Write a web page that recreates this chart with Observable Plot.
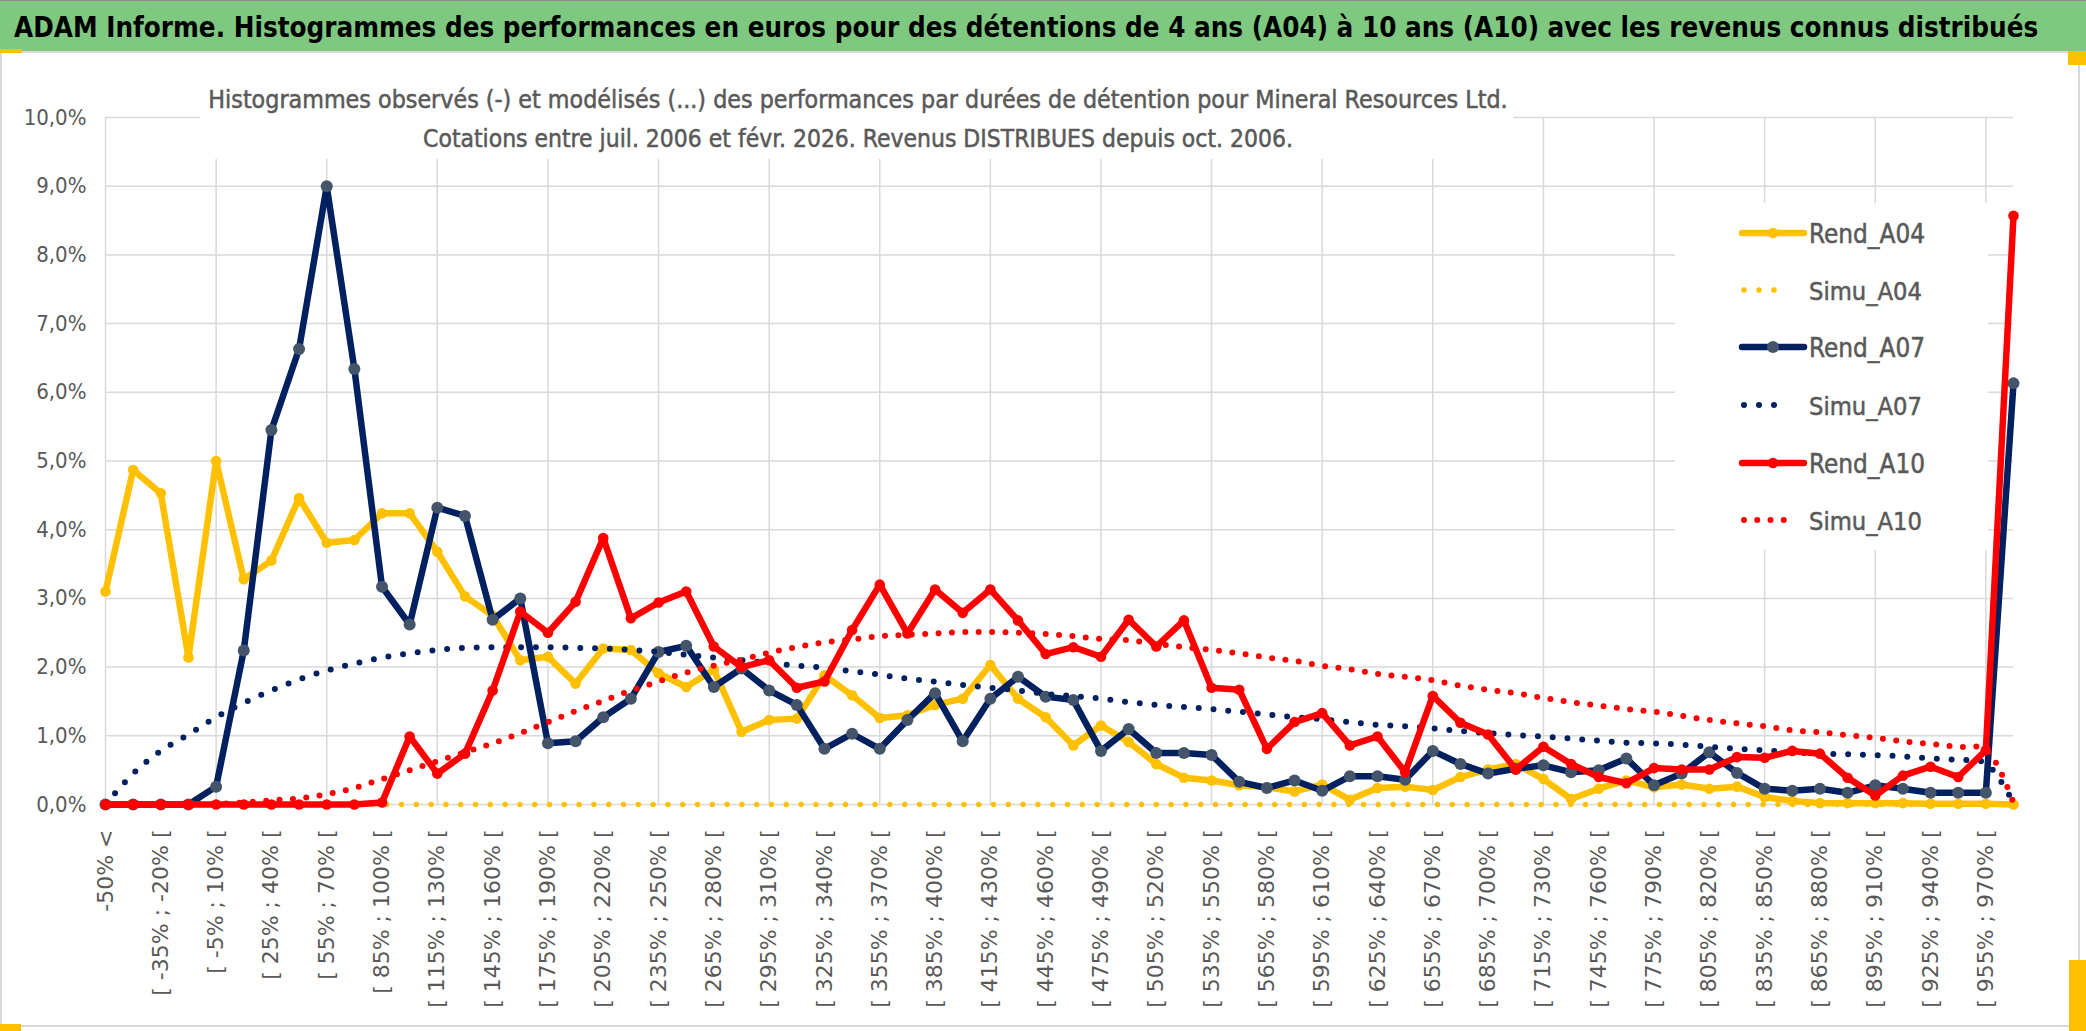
<!DOCTYPE html>
<html><head><meta charset="utf-8">
<script src="https://cdn.jsdelivr.net/npm/d3@7"></script>
<script src="https://cdn.jsdelivr.net/npm/@observablehq/plot@0.6"></script>
<style>
html,body{margin:0;padding:0;background:#fff;}
#wrap{position:relative;width:2086px;height:1031px;overflow:hidden;background:#fff;}
#bar{position:absolute;left:0;top:0;width:2086px;height:51px;background:#7ec87f;border-top:1px solid #8a8a8a;box-sizing:border-box;}
#chart{position:absolute;left:0;top:53px;}
#over{position:absolute;left:0;top:0;pointer-events:none;}
</style></head><body>
<div id="wrap"><div id="bar"></div><div id="chart"></div><svg id="over" width="2086" height="1031"></svg></div>
<script>
const titleText = "ADAM Informe. Histogrammes des performances en euros pour des détentions de 4 ans (A04) à 10 ans (A10) avec les revenus connus distribués";
const subtitle1 = "Histogrammes observés (-) et modélisés (...) des performances par durées de détention pour Mineral Resources Ltd.";
const subtitle2 = "Cotations entre juil. 2006 et févr. 2026. Revenus DISTRIBUES depuis oct. 2006.";

const categories = [
"-50% <","[ -50% ; -35% [","[ -35% ; -20% [","[ -20% ; -5% [","[ -5% ; 10% [","[ 10% ; 25% [","[ 25% ; 40% [","[ 40% ; 55% [","[ 55% ; 70% [","[ 70% ; 85% [",
"[ 85% ; 100% [","[ 100% ; 115% [","[ 115% ; 130% [","[ 130% ; 145% [","[ 145% ; 160% [","[ 160% ; 175% [","[ 175% ; 190% [","[ 190% ; 205% [","[ 205% ; 220% [","[ 220% ; 235% [",
"[ 235% ; 250% [","[ 250% ; 265% [","[ 265% ; 280% [","[ 280% ; 295% [","[ 295% ; 310% [","[ 310% ; 325% [","[ 325% ; 340% [","[ 340% ; 355% [","[ 355% ; 370% [","[ 370% ; 385% [",
"[ 385% ; 400% [","[ 400% ; 415% [","[ 415% ; 430% [","[ 430% ; 445% [","[ 445% ; 460% [","[ 460% ; 475% [","[ 475% ; 490% [","[ 490% ; 505% [","[ 505% ; 520% [","[ 520% ; 535% [",
"[ 535% ; 550% [","[ 550% ; 565% [","[ 565% ; 580% [","[ 580% ; 595% [","[ 595% ; 610% [","[ 610% ; 625% [","[ 625% ; 640% [","[ 640% ; 655% [","[ 655% ; 670% [","[ 670% ; 685% [",
"[ 685% ; 700% [","[ 700% ; 715% [","[ 715% ; 730% [","[ 730% ; 745% [","[ 745% ; 760% [","[ 760% ; 775% [","[ 775% ; 790% [","[ 790% ; 805% [","[ 805% ; 820% [","[ 820% ; 835% [",
"[ 835% ; 850% [","[ 850% ; 865% [","[ 865% ; 880% [","[ 880% ; 895% [","[ 895% ; 910% [","[ 910% ; 925% [","[ 925% ; 940% [","[ 940% ; 955% [","[ 955% ; 970% [","970% >"
];

const yTicks = [0,1,2,3,4,5,6,7,8,9,10];

// values in %
const rendA04 = [3.10,4.87,4.53,2.14,5.00,3.28,3.55,4.46,3.81,3.85,
4.24,4.24,3.68,3.03,2.75,2.10,2.15,1.76,2.27,2.25,
1.91,1.71,1.96,1.06,1.23,1.25,1.88,1.59,1.26,1.30,
1.45,1.54,2.03,1.54,1.27,0.86,1.15,0.91,0.59,0.39,
0.35,0.28,0.25,0.19,0.29,0.07,0.24,0.26,0.21,0.40,
0.51,0.59,0.37,0.08,0.23,0.35,0.25,0.29,0.23,0.26,
0.11,0.05,0.02,0.02,0.02,0.02,0.01,0.01,0.01,0.00];
const simuA04 = [0,0,0,0,0,0,0,0,0,0,0,0,0,0,0,0,0,0,0,0,0,0,0,0,0,0,0,0,0,0,0,0,0,0,0,
0,0,0,0,0,0,0,0,0,0,0,0,0,0,0,0,0,0,0,0,0,0,0,0,0,0,0,0,0,0,0,0,0,0,0];
const rendA07 = [0,0,0,0,0.26,2.24,5.45,6.63,9.00,6.34,
3.17,2.62,4.32,4.20,2.69,3.00,0.89,0.92,1.27,1.54,
2.22,2.31,1.71,1.98,1.66,1.45,0.81,1.03,0.81,1.23,
1.62,0.92,1.54,1.86,1.57,1.52,0.78,1.10,0.75,0.75,
0.72,0.33,0.24,0.35,0.20,0.41,0.41,0.36,0.78,0.59,
0.45,0.52,0.57,0.47,0.50,0.67,0.28,0.45,0.76,0.46,
0.23,0.20,0.23,0.17,0.28,0.23,0.17,0.17,0.17,6.13];
const simuA07 = [0.00,0.45,0.78,1.02,1.27,1.48,1.66,1.82,1.95,2.05,
2.14,2.20,2.25,2.28,2.29,2.29,2.29,2.28,2.27,2.25,
2.22,2.18,2.14,2.10,2.06,2.02,1.99,1.94,1.89,1.83,
1.79,1.74,1.70,1.66,1.61,1.58,1.54,1.49,1.45,1.42,
1.39,1.35,1.31,1.27,1.24,1.20,1.16,1.14,1.11,1.07,
1.04,1.01,0.99,0.96,0.93,0.90,0.89,0.87,0.84,0.81,
0.79,0.76,0.74,0.73,0.72,0.70,0.67,0.65,0.60,0.02];
const rendA10 = [0,0,0,0,0,0,0,0,0,0,
0.03,0.99,0.45,0.74,1.66,2.81,2.50,2.95,3.88,2.71,
2.94,3.10,2.30,2.00,2.10,1.70,1.79,2.54,3.20,2.49,
3.13,2.79,3.13,2.68,2.19,2.29,2.15,2.69,2.30,2.68,
1.70,1.67,0.81,1.20,1.33,0.86,0.99,0.47,1.58,1.19,
1.02,0.51,0.84,0.59,0.40,0.31,0.53,0.51,0.51,0.69,
0.68,0.78,0.74,0.39,0.13,0.42,0.55,0.40,0.79,8.57];
const simuA10 = [0,0,0,0,0.01,0.03,0.06,0.09,0.15,0.24,
0.37,0.50,0.63,0.76,0.89,1.04,1.20,1.36,1.51,1.66,
1.79,1.92,2.02,2.11,2.21,2.29,2.36,2.40,2.45,2.47,
2.49,2.51,2.51,2.50,2.48,2.45,2.41,2.39,2.34,2.29,
2.25,2.20,2.14,2.09,2.02,1.97,1.90,1.86,1.81,1.73,
1.67,1.62,1.55,1.49,1.44,1.39,1.35,1.29,1.23,1.18,
1.14,1.08,1.05,1.01,0.97,0.92,0.88,0.84,0.80,0.02];

const seriesNames = ["Rend_A04","Simu_A04","Rend_A07","Simu_A07","Rend_A10","Simu_A10"];
const seriesValues = [rendA04, simuA04, rendA07, simuA07, rendA10, simuA10];
const styles = [
  {kind:"rend", stroke:"#FFC000", marker:"#FFC000", r:5.3},
  {kind:"simu", stroke:"#FFC000", w:5.5, dash:"0 14.8"},
  {kind:"rend", stroke:"#002060", marker:"#44546A", r:6},
  {kind:"simu", stroke:"#002060", w:6, dash:"0 14.8"},
  {kind:"rend", stroke:"#FF0000", marker:"#FF0000", r:5.3},
  {kind:"simu", stroke:"#FF0000", w:6, dash:"0 13.4"}
];

const NARROW = "'Liberation Sans Narrow','DejaVu Sans Condensed','Liberation Sans',sans-serif";
const GRID = "#d9d9d9";
const TXT = "#595959";

const marks = [
  Plot.gridY(yTicks, {stroke: GRID, strokeOpacity: 1, strokeWidth: 1.5}),
  Plot.gridX(categories.filter((d, i) => i % 4 === 0), {stroke: GRID, strokeOpacity: 1, strokeWidth: 1.5}),
  Plot.axisY(yTicks, {tickSize: 0, tickPadding: 19, fontSize: 22, fontFamily: NARROW, fill: TXT,
    tickFormat: d => d.toFixed(1).replace(".", ",") + "%", label: null}),
  Plot.axisX(categories.filter((d, i) => i % 2 === 0), {tickSize: 0, tickPadding: 25, tickRotate: -90,
    fontSize: 22, fontFamily: "'DejaVu Sans',sans-serif", fill: TXT, label: null})
];

seriesValues.forEach((vals, k) => {
  const rows = categories.map((c, i) => ({cat: c, v: vals[i], s: seriesNames[k]}));
  const st = styles[k];
  if (st.kind === "rend") {
    marks.push(Plot.line(rows, {x: "cat", y: "v", stroke: st.stroke, strokeWidth: 6.5, strokeLinejoin: "round", strokeLinecap: "round"}));
    marks.push(Plot.dot(rows, {x: "cat", y: "v", r: st.r, fill: st.marker, stroke: "none"}));
  } else {
    marks.push(Plot.line(rows, {x: "cat", y: "v", stroke: st.stroke, strokeWidth: st.w, strokeDasharray: st.dash,
      strokeLinecap: "round", curve: "catmull-rom"}));
  }
});

const chart = Plot.plot({
  width: 2086, height: 978,
  marginLeft: 105, marginRight: 73, marginTop: 64, marginBottom: 227,
  style: {background: "transparent", overflow: "visible"},
  x: {type: "point", domain: categories, padding: 0},
  y: {domain: [0, 10]},
  marks
});
document.getElementById("chart").appendChild(chart);

// fit a text's natural width to a target width by adjusting its font size
function fit(sel, target) {
  const w = sel.node().getComputedTextLength();
  const fs = +sel.attr("font-size");
  if (w > 0) sel.attr("font-size", (fs * target / w).toFixed(2));
  return sel;
}

// overlay: title, subtitle box, legend, frame
const ov = d3.select("#over");
ov.append("rect").attr("x", 1).attr("y", 52).attr("width", 2078).attr("height", 974)
  .attr("fill", "none").attr("stroke", GRID).attr("stroke-width", 2);
fit(ov.append("text").attr("x", 14).attr("y", 37).attr("font-family", NARROW).attr("font-weight", "bold")
  .attr("font-size", 29).attr("fill", "#000").text(titleText), 2025);

// subtitle box
ov.append("rect").attr("x", 200).attr("y", 70).attr("width", 1313).attr("height", 89).attr("fill", "#fff");
fit(ov.append("text").attr("x", 858).attr("y", 108).attr("text-anchor", "middle").attr("font-family", NARROW)
  .attr("font-size", 29).attr("fill", TXT).attr("stroke", TXT).attr("stroke-width", 0.5).text(subtitle1), 1300);
fit(ov.append("text").attr("x", 858).attr("y", 147).attr("text-anchor", "middle").attr("font-family", NARROW)
  .attr("font-size", 29).attr("fill", TXT).attr("stroke", TXT).attr("stroke-width", 0.5).text(subtitle2), 870);

// legend
ov.append("rect").attr("x", 1675).attr("y", 203).attr("width", 313).attr("height", 347).attr("fill", "#fff");
const legY = [233, 290, 347, 405, 463, 520];
seriesNames.forEach((name, k) => {
  const st = styles[k], y = legY[k];
  if (st.kind === "rend") {
    ov.append("line").attr("x1", 1742).attr("x2", 1804).attr("y1", y).attr("y2", y)
      .attr("stroke", st.stroke).attr("stroke-width", 6.5).attr("stroke-linecap", "round");
    ov.append("circle").attr("cx", 1773).attr("cy", y).attr("r", st.r).attr("fill", st.marker);
  } else {
    ov.append("line").attr("x1", 1744).attr("x2", k === 5 ? 1797 : 1789).attr("y1", y).attr("y2", y)
      .attr("stroke", st.stroke).attr("stroke-width", st.w).attr("stroke-linecap", "round")
      .attr("stroke-dasharray", k === 5 ? "0 13.25" : "0 15");
  }
  fit(ov.append("text").attr("x", 1809).attr("y", y + 10).attr("font-family", NARROW).attr("font-size", 30)
    .attr("fill", TXT).attr("stroke", TXT).attr("stroke-width", 0.5).text(name),
    name.startsWith("Rend") ? 116 : 113);
});

// selection handles
const Y = "#FFC000";
[[0, 49, 22, 4], [2068, 51, 18, 14], [0, 1024, 21, 7], [2069, 960, 17, 71]].forEach(r =>
  ov.append("rect").attr("x", r[0]).attr("y", r[1]).attr("width", r[2]).attr("height", r[3]).attr("fill", Y));
</script>
</body></html>
